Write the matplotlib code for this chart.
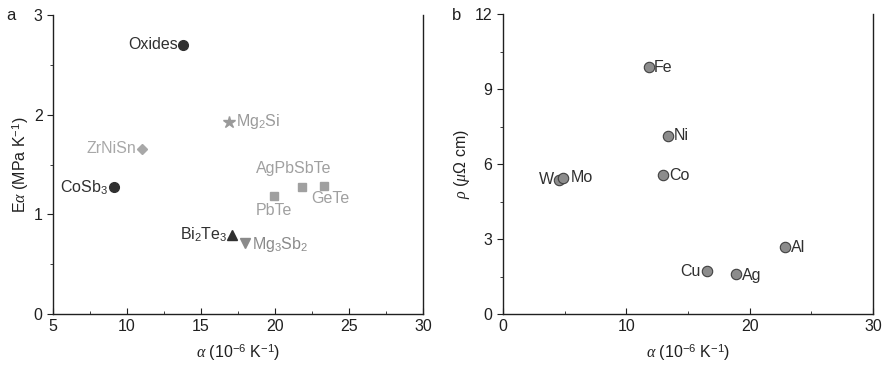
import matplotlib
matplotlib.use("Agg")
import matplotlib.pyplot as plt
from matplotlib.ticker import MultipleLocator

plt.rcParams['font.family'] = ['Liberation Sans', 'DejaVu Sans']
plt.rcParams['mathtext.fontset'] = 'custom'
plt.rcParams['mathtext.rm'] = 'Liberation Sans'
plt.rcParams['mathtext.it'] = 'Liberation Serif:italic'

# Panel a data
mat_names = ["Oxides", "CoSb$_3$", "ZrNiSn", "Mg$_2$Si", "Bi$_2$Te$_3$", "Mg$_3$Sb$_2$", "PbTe", "AgPbSbTe", "GeTe"]
mat_alpha = [13.8, 9.1, 11.0, 16.9, 17.1, 18.0, 19.9, 21.8, 23.3]
mat_Ealpha = [2.70, 1.27, 1.66, 1.93, 0.79, 0.71, 1.18, 1.27, 1.28]
mat_markers = ["o", "o", "D", "*", "^", "v", "s", "s", "s"]
mat_colors = ["#303030", "#303030", "#a8a8a8", "#9a9a9a", "#303030", "#8a8a8a", "#a0a0a0", "#a0a0a0", "#a0a0a0"]

# Panel b data
met_names = ["Fe", "Ni", "Co", "W", "Mo", "Al", "Cu", "Ag"]
met_alpha = [11.8, 13.4, 13.0, 4.5, 4.9, 22.9, 16.5, 18.9]
met_rho = [9.88, 7.12, 5.56, 5.36, 5.44, 2.68, 1.72, 1.60]

fig = plt.figure(figsize=(8.88, 3.70), dpi=100)
axa = fig.add_axes([53/888, 56/370, 370/888, 299/370])
axb = fig.add_axes([503/888, 56/370, 370/888, 300/370])

text_dark = "#303030"
FS = 11.5

msize = {"o": 7, "D": 5.5, "*": 9, "^": 6.5, "v": 6.5, "s": 6}
for n, x, y, m, c in zip(mat_names, mat_alpha, mat_Ealpha, mat_markers, mat_colors):
    axa.plot([x], [y], marker=m, color=c, ms=msize[m], linestyle='none', mec=c)

lab_a = {
    "Oxides": (-4, 0, 'right', 'center'),
    "CoSb$_3$": (-4, 0, 'right', 'center'),
    "ZrNiSn": (-4, 0, 'right', 'center'),
    "Mg$_2$Si": (5, 0, 'left', 'center'),
    "Bi$_2$Te$_3$": (-3, 0, 'right', 'center'),
    "Mg$_3$Sb$_2$": (5, -1, 'left', 'center'),
    "PbTe": (0, -5, 'center', 'top'),
    "AgPbSbTe": (-6, 8, 'center', 'bottom'),
    "GeTe": (5, -3, 'center', 'top'),
}
for n, x, y, c in zip(mat_names, mat_alpha, mat_Ealpha, mat_colors):
    dx, dy, ha, va = lab_a[n]
    axa.annotate(n, (x, y), xytext=(dx, dy), textcoords='offset points',
                 ha=ha, va=va, fontsize=FS, color=c)

axb.plot(met_alpha, met_rho, 'o', ms=7.5, mfc='#8c8c8c', mec='#404040', mew=0.8, linestyle='none')
lab_b = {
    "Fe": (4, 0, 'left', 'center'),
    "Ni": (4, 0, 'left', 'center'),
    "Co": (4, 0, 'left', 'center'),
    "W": (-3, 0, 'right', 'center'),
    "Mo": (5, 0, 'left', 'center'),
    "Al": (4, 0, 'left', 'center'),
    "Cu": (-4, 0, 'right', 'center'),
    "Ag": (4, -1, 'left', 'center'),
}
for n, x, y in zip(met_names, met_alpha, met_rho):
    dx, dy, ha, va = lab_b[n]
    axb.annotate(n, (x, y), xytext=(dx, dy), textcoords='offset points',
                 ha=ha, va=va, fontsize=FS, color=text_dark)

for ax in (axa, axb):
    ax.spines['top'].set_visible(False)
    for s in ('left', 'bottom', 'right'):
        ax.spines[s].set_linewidth(1.0)
        ax.spines[s].set_color('#202020')
    ax.tick_params(axis='x', which='both', direction='in', top=False, colors='#202020', labelsize=11.5)
    ax.tick_params(axis='y', which='both', direction='out', right=False, colors='#202020', labelsize=11.5)
    ax.tick_params(which='major', length=4)
    ax.tick_params(which='minor', length=2.5)

axa.set_xlim(5, 30)
axa.set_ylim(0, 3)
axa.xaxis.set_major_locator(MultipleLocator(5))
axa.xaxis.set_minor_locator(MultipleLocator(2.5))
axa.yaxis.set_major_locator(MultipleLocator(1))
axa.yaxis.set_minor_locator(MultipleLocator(0.5))
axa.set_xlabel(r"$\mathit{\alpha}$ (10$^{-6}$ K$^{-1}$)", fontsize=11.5, color='#202020', labelpad=6)
axa.set_ylabel(r"E$\mathit{\alpha}$ (MPa K$^{-1}$)", fontsize=11.5, color='#202020', labelpad=2)

axb.set_xlim(0, 30)
axb.set_ylim(0, 12)
axb.xaxis.set_major_locator(MultipleLocator(10))
axb.xaxis.set_minor_locator(MultipleLocator(5))
axb.yaxis.set_major_locator(MultipleLocator(3))
axb.yaxis.set_minor_locator(MultipleLocator(1.5))
axb.set_xlabel(r"$\mathit{\alpha}$ (10$^{-6}$ K$^{-1}$)", fontsize=11.5, color='#202020', labelpad=6)
axb.set_ylabel(r"$\mathit{\rho}$ ($\mu\Omega$ cm)", fontsize=11.5, color='#202020', labelpad=2)

fig.text(6/888, 1 - 16/370, "a", fontsize=12, color='#202020', va='center')
fig.text(452/888, 1 - 16/370, "b", fontsize=12, color='#202020', va='center')

fig.savefig("out.png", dpi=100)
